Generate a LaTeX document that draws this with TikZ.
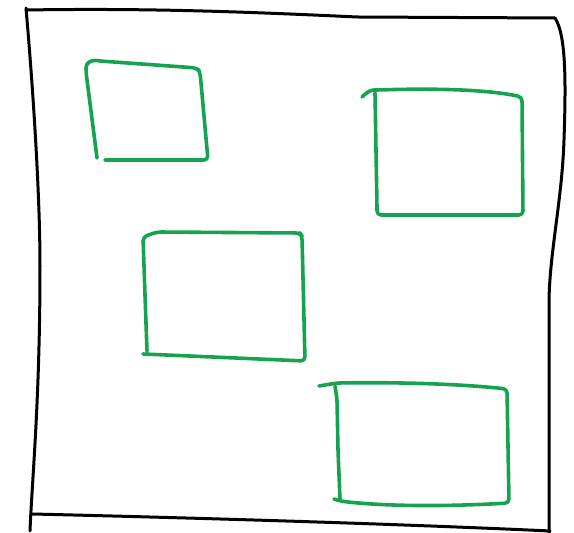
\documentclass[tikz,border=0pt]{standalone}
\usepackage{tikz}
\usetikzlibrary{calc}
\definecolor{penGreen}{RGB}{22,163,80}
\tikzset{
  outline/.style={line width=1.5pt, black, line cap=round, line join=round},
  greenbox/.style={line width=1.8pt, penGreen, line cap=round, line join=round, rounded corners=2pt},
}

\begin{document}
\begin{tikzpicture}[x=0.5pt, y=-0.5pt]
    \useasboundingbox (0,0) rectangle (574,533);
    \draw[outline] (26,10) .. controls (150,8) and (250,12) .. (357,17) -- (555,18);
    \draw[outline] (555,18) .. controls (566,35) and (566,80) .. (564,140) .. controls (562,200) and (550,250) .. (549,300) -- (549,533);
    \draw[outline] (26,8) .. controls (34,100) and (40,200) .. (40,266) .. controls (40,400) and (32,480) .. (30,531);
    \draw[outline] (32,514) .. controls (200,518) and (400,524) .. (550,531);
    \draw[greenbox] (97,158) -- (86,72) .. controls (86,62) and (92,60) .. (100,61) -- (197,68) -- (200,72) -- (208,160) -- (105,160);
    \draw[greenbox] (362,97) .. controls (366,93) and (370,90) .. (378,90) .. controls (440,88) and (490,90) .. (522,97) -- (523,215) -- (377,215) -- (377,207) -- (375,93);
    \draw[greenbox] (147,351) -- (145,295) -- (143,237) -- (157,232) -- (300,233) -- (302,236) -- (305,361) -- (143,354);
    \draw[greenbox] (319,386) -- (337,383) .. controls (400,382) and (460,384) .. (507,389) -- (509,503) .. controls (440,507) and (380,506) .. (340,501) -- (334,499);
    \draw[greenbox] (340,499) -- (338,450) -- (337,399) -- (335,386);
\end{tikzpicture}
\end{document}
